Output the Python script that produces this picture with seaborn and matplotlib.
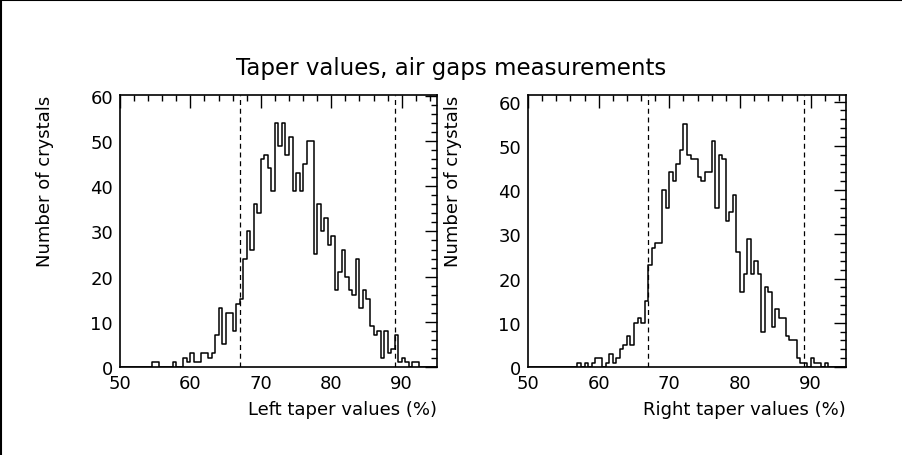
import numpy as np
import pandas as pd
import seaborn as sns
import matplotlib.pyplot as plt
from matplotlib.ticker import MultipleLocator
from matplotlib.lines import Line2D

# Histogram contents, 0.5 % bins from 50 to 95
binCenters = np.arange(50.25, 95, 0.5)

leftCounts = [0, 0, 0, 0, 0, 0, 0, 0, 0, 1,
              1, 0, 0, 0, 0, 1, 0, 0, 2, 1,
              3, 1, 1, 3, 3, 2, 3, 7, 13, 5,
              12, 12, 8, 14, 15, 24, 30, 26, 36, 34,
              46, 47, 44, 39, 54, 49, 54, 47, 51, 39,
              43, 39, 45, 50, 50, 25, 36, 30, 33, 27,
              29, 17, 21, 26, 20, 17, 16, 24, 13, 17,
              15, 9, 7, 8, 2, 8, 3, 4, 7, 1,
              2, 1, 0, 1, 1, 0, 0, 0, 0, 0]
rightCounts = [0, 0, 0, 0, 0, 0, 0, 0, 0, 0,
               0, 0, 0, 0, 1, 0, 1, 0, 1, 2,
               2, 0, 1, 3, 1, 2, 4, 5, 7, 5,
               10, 11, 10, 15, 23, 27, 28, 28, 40, 36,
               44, 42, 46, 49, 55, 48, 47, 47, 43, 42,
               44, 44, 51, 36, 48, 47, 33, 35, 39, 26,
               17, 21, 29, 21, 24, 21, 8, 18, 17, 9,
               13, 11, 11, 7, 6, 6, 2, 1, 1, 0,
               2, 1, 1, 0, 1, 0, 0, 0, 0, 0]
cutValues = [67, 89]

panels = [("Left taper values (%)", leftCounts, 60.2),
          ("Right taper values (%)", rightCounts, 61.5)]

sns.set_style("white")
plt.rcParams['font.family'] = ['DejaVu Sans']
plt.rcParams['text.color'] = 'black'
plt.rcParams['axes.labelcolor'] = 'black'
plt.rcParams['xtick.color'] = 'black'
plt.rcParams['ytick.color'] = 'black'

fig = plt.figure(figsize=(9.02, 4.56), dpi=100)
axPos = [[0.133, 0.193, 0.3514, 0.5965], [0.5854, 0.193, 0.3525, 0.5965]]

for pos, (xlab, counts, ytop) in zip(axPos, panels):
    ax = fig.add_axes(pos)
    df = pd.DataFrame({'taper': binCenters, 'n': counts})
    sns.histplot(data=df, x='taper', weights='n', binwidth=0.5, binrange=(50, 95),
                 element='step', fill=False, color='black', linewidth=1.1, ax=ax)
    for c in cutValues:
        ax.axvline(c, color='black', linewidth=0.9, linestyle=(0, (4, 3)))
    ax.set_xlim(50, 95)
    ax.set_ylim(0, ytop)
    ax.xaxis.set_major_locator(MultipleLocator(10))
    ax.xaxis.set_minor_locator(MultipleLocator(2))
    ax.yaxis.set_major_locator(MultipleLocator(10))
    ax.yaxis.set_minor_locator(MultipleLocator(2))
    ax.tick_params(which='both', direction='in', top=True, right=True, width=1, labelsize=13, pad=5)
    ax.tick_params(which='major', length=9)
    ax.tick_params(which='minor', length=4.5)
    for s in ax.spines.values():
        s.set_linewidth(1.2)
        s.set_color('black')
    ax.set_xlabel(xlab, loc='right', fontsize=13, labelpad=6)
    ax.set_ylabel("Number of crystals", loc='top', fontsize=13, labelpad=26)

fig.text(0.5, 0.85, "Taper values, air gaps measurements", ha='center', va='center', fontsize=16.5)
# frame lines on the left and top edge of the page
fig.add_artist(Line2D([0.001, 0.001], [0, 1], transform=fig.transFigure, color='black', linewidth=1.5))
fig.add_artist(Line2D([0, 1], [0.998, 0.998], transform=fig.transFigure, color='black', linewidth=1.5))

fig.savefig('out.png', dpi=100)
